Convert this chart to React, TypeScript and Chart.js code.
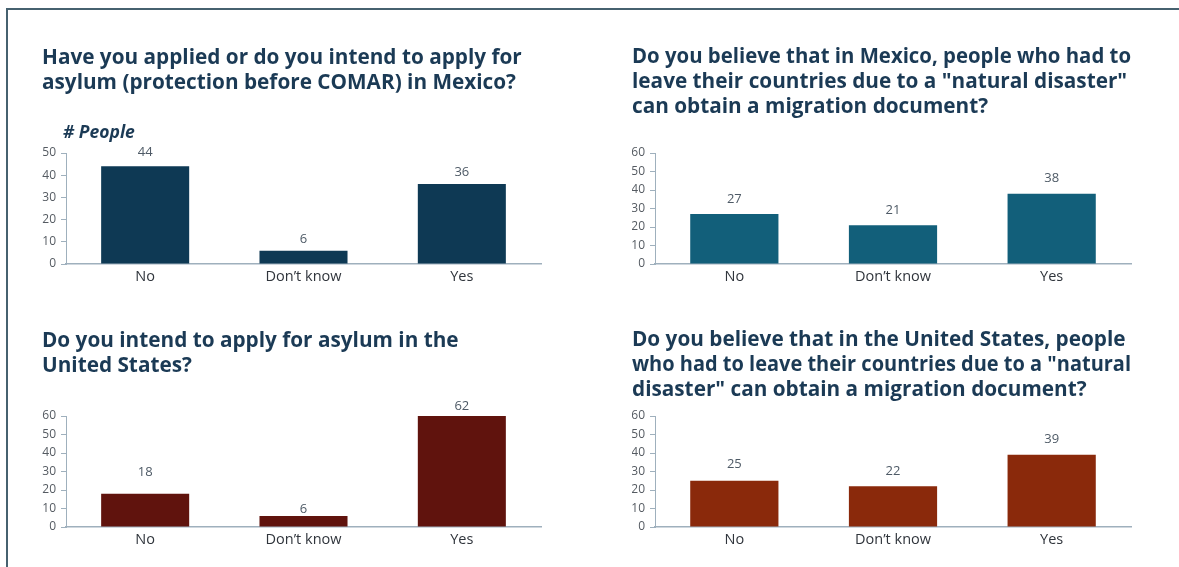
import React, { useEffect, useRef } from "react";
import { Chart, registerables } from "chart.js";

Chart.register(...registerables);

// ---------- data ----------
const categories = ["No", "Don’t know", "Yes"];

const asylumMexicoValues = [44, 6, 36];
const disasterMexicoValues = [27, 21, 38];
const asylumUSValues = [18, 6, 62];
const disasterUSValues = [25, 22, 39];

const asylumMexicoTitle = [
  "Have you applied or do you intend to apply for",
  "asylum (protection before COMAR) in Mexico?",
];
const disasterMexicoTitle = [
  "Do you believe that in Mexico, people who had to",
  "leave their countries due to a \"natural disaster\"",
  "can obtain a migration document?",
];
const asylumUSTitle = [
  "Do you intend to apply for asylum in the",
  "United States?",
];
const disasterUSTitle = [
  "Do you believe that in the United States, people",
  "who had to leave their countries due to a \"natural",
  "disaster\" can obtain a migration document?",
];

const yAxisLabel = "# People";
const yMaxTop = 50;
const yMaxOthers = 60;
const yStep = 10;

// ---------- styles ----------
const FONT = "'Open Sans', 'Noto Sans', sans-serif";
const TITLE_COLOR = "#1b3a55";
const AXIS_COLOR = "#9fb0bd";
const TICK_COLOR = "#555b62";
const CAT_COLOR = "#30353c";
const VALUE_COLOR = "#4e5a66";
const TITLE_SIZE = 20.75;

type PanelSpec = {
  left: number;
  top: number;
  width: number;
  height: number;
  title: string[];
  values: number[];
  color: string;
  yMax: number;
  pad: { left: number; right: number; bottom: number };
  titlePad: { top: number; bottom: number };
  yWidth: number;
  labelOffsets: number[];
  axisLabel?: string;
};

const valueLabelsPlugin = {
  id: "valueLabels",
  afterDatasetsDraw(chart: any, _args: any, opts: any) {
    const { ctx, chartArea } = chart;
    const meta = chart.getDatasetMeta(0);
    const data = chart.data.datasets[0].data as number[];
    ctx.save();
    ctx.font = `13px ${FONT}`;
    ctx.fillStyle = VALUE_COLOR;
    ctx.textAlign = "center";
    ctx.textBaseline = "middle";
    meta.data.forEach((bar: any, i: number) => {
      const top = Math.max(bar.y, chartArea.top);
      const off = (opts.offsets && opts.offsets[i]) || 12;
      ctx.fillText(String(data[i]), bar.x, top - off);
    });
    if (opts.axisLabel) {
      ctx.font = `italic bold 17.5px ${FONT}`;
      ctx.fillStyle = TITLE_COLOR;
      ctx.textAlign = "left";
      ctx.fillText(opts.axisLabel, chartArea.left - 3, chartArea.top - 20);
    }
    ctx.restore();
  },
};

function BarPanel({ spec }: { spec: PanelSpec }) {
  const ref = useRef<HTMLCanvasElement | null>(null);
  useEffect(() => {
    if (!ref.current) return;
    const chart = new Chart(ref.current, {
      type: "bar",
      data: {
        labels: categories,
        datasets: [
          {
            data: spec.values,
            backgroundColor: spec.color,
            borderWidth: 0,
            barPercentage: 0.556,
            categoryPercentage: 1,
            clip: 0,
          } as any,
        ],
      },
      options: {
        animation: false,
        responsive: false,
        maintainAspectRatio: false,
        devicePixelRatio: 1,
        layout: {
          padding: { left: spec.pad.left, right: spec.pad.right, top: 0, bottom: spec.pad.bottom },
        },
        plugins: {
          legend: { display: false },
          tooltip: { enabled: false },
          title: {
            display: true,
            text: spec.title,
            align: "start",
            color: TITLE_COLOR,
            font: { family: FONT, size: TITLE_SIZE, weight: "bold", lineHeight: 25 / TITLE_SIZE },
            padding: { top: spec.titlePad.top, bottom: spec.titlePad.bottom },
          },
          valueLabels: { offsets: spec.labelOffsets, axisLabel: spec.axisLabel },
        } as any,
        scales: {
          x: {
            grid: { display: false, drawTicks: false },
            border: { display: true, color: AXIS_COLOR, width: 1.5 },
            ticks: { color: CAT_COLOR, font: { family: FONT, size: 14.5 }, padding: 4 },
            afterFit: (s: any) => {
              s.height = 30;
            },
          },
          y: {
            min: 0,
            max: spec.yMax,
            ticks: { stepSize: yStep, color: TICK_COLOR, font: { family: FONT, size: 12 }, padding: 5 },
            grid: { drawOnChartArea: false, drawTicks: true, tickLength: 5, color: AXIS_COLOR },
            border: { display: true, color: AXIS_COLOR, width: 1 },
            afterFit: (s: any) => {
              s.width = spec.yWidth;
            },
          },
        },
      },
      plugins: [valueLabelsPlugin],
    });
    return () => chart.destroy();
  }, [spec]);
  return (
    <canvas
      ref={ref}
      width={spec.width}
      height={spec.height}
      style={{
        position: "absolute",
        left: spec.left,
        top: spec.top,
        width: spec.width,
        height: spec.height,
      }}
    />
  );
}

const panels: PanelSpec[] = [
  {
    left: 12,
    top: 14,
    width: 580,
    height: 290,
    title: asylumMexicoTitle,
    values: asylumMexicoValues,
    color: "#0e3954",
    yMax: yMaxTop,
    pad: { left: 30, right: 51, bottom: 10 },
    titlePad: { top: 31.5, bottom: 57.5 },
    yWidth: 24,
    labelOffsets: [14, 11, 12],
    axisLabel: yAxisLabel,
  },
  {
    left: 600,
    top: 14,
    width: 570,
    height: 290,
    title: disasterMexicoTitle,
    values: disasterMexicoValues,
    color: "#125f7a",
    yMax: yMaxOthers,
    pad: { left: 32, right: 39, bottom: 10 },
    titlePad: { top: 31, bottom: 33 },
    yWidth: 23,
    labelOffsets: [15, 15, 15],
  },
  {
    left: 12,
    top: 300,
    width: 580,
    height: 265,
    title: asylumUSTitle,
    values: asylumUSValues,
    color: "#60130d",
    yMax: yMaxOthers,
    pad: { left: 30, right: 51, bottom: 8 },
    titlePad: { top: 28.5, bottom: 37.5 },
    yWidth: 24,
    labelOffsets: [21, 7, 10],
  },
  {
    left: 600,
    top: 300,
    width: 570,
    height: 265,
    title: disasterUSTitle,
    values: disasterUSValues,
    color: "#8a290b",
    yMax: yMaxOthers,
    pad: { left: 32, right: 39, bottom: 8 },
    titlePad: { top: 27.5, bottom: 13.5 },
    yWidth: 23,
    labelOffsets: [16, 15, 16],
  },
];

export default function App() {
  return (
    <div
      style={{
        position: "absolute",
        left: 0,
        top: 0,
        width: 1179,
        height: 567,
        background: "#ffffff",
        overflow: "hidden",
      }}
    >
      <div
        style={{
          position: "absolute",
          left: 6,
          top: 8,
          width: 1200,
          height: 600,
          borderTop: "2px solid #46616f",
          borderLeft: "2px solid #46616f",
        }}
      />
      {panels.map((p, i) => (
        <BarPanel key={i} spec={p} />
      ))}
    </div>
  );
}
